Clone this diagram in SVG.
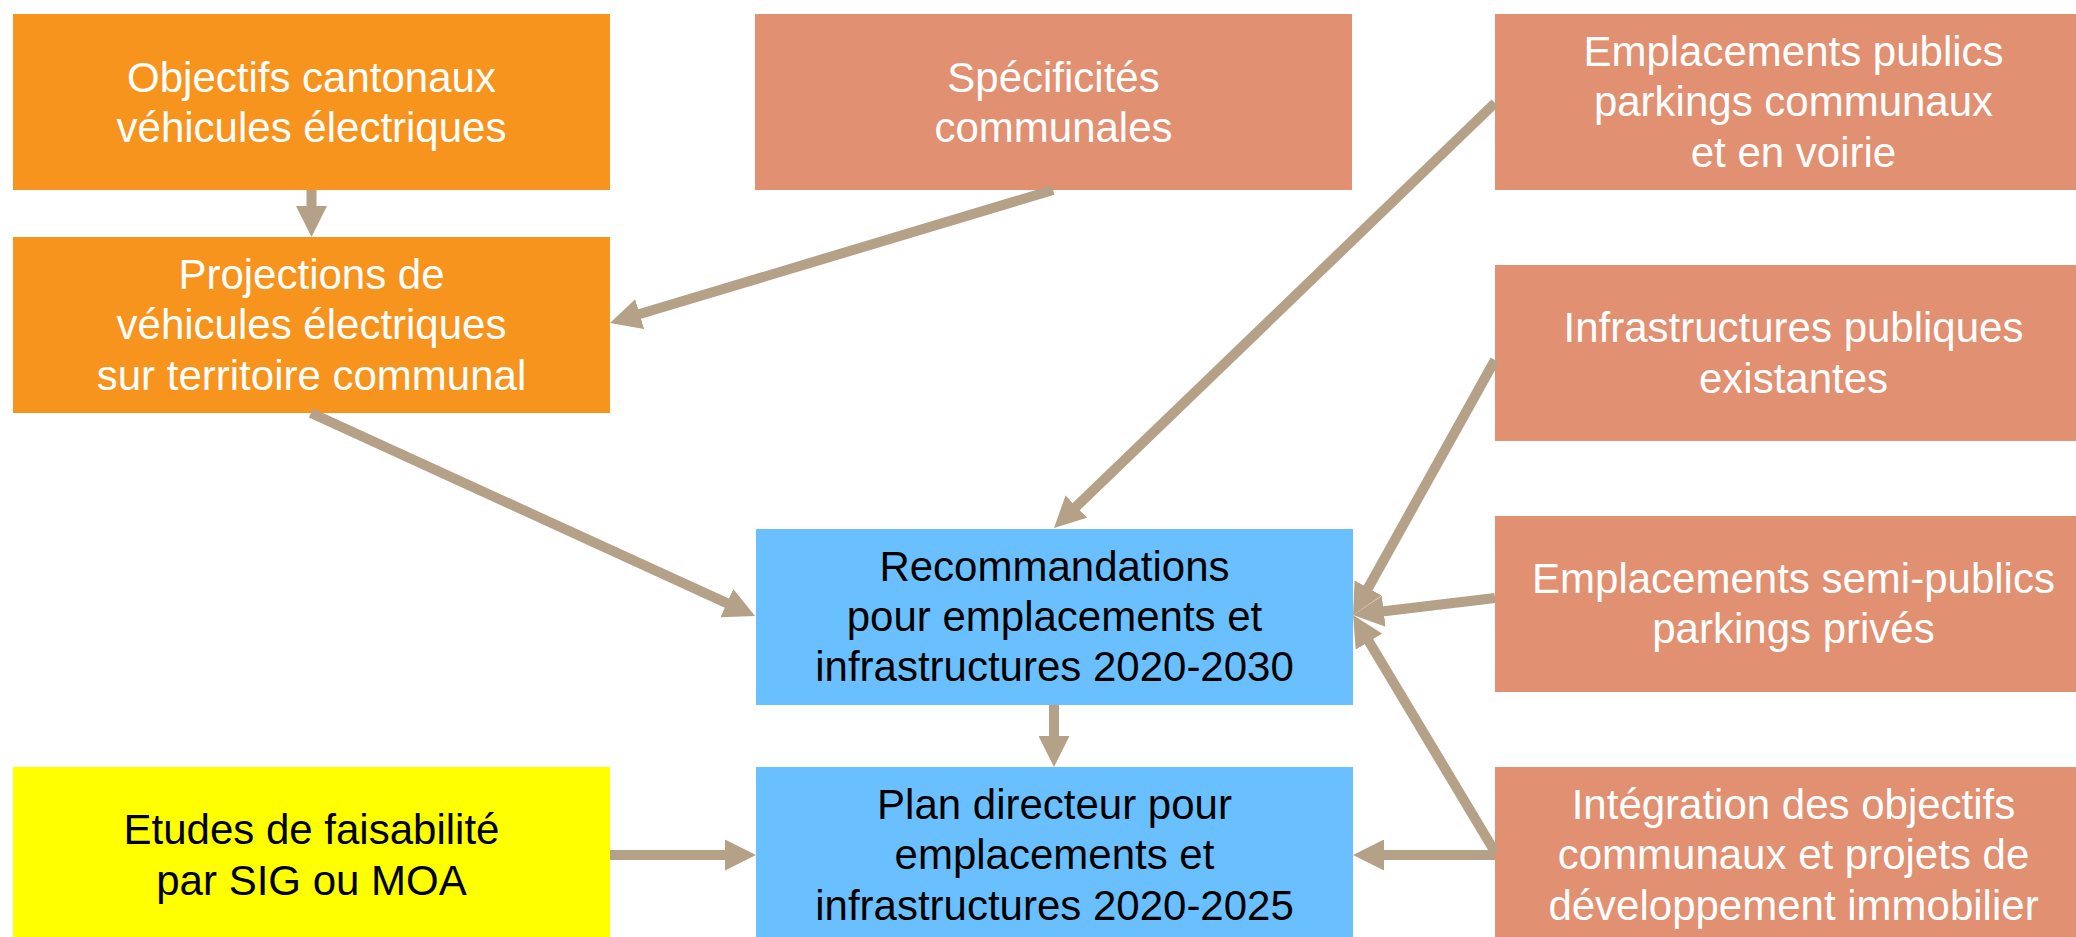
<svg xmlns="http://www.w3.org/2000/svg" width="2076" height="937" viewBox="0 0 2076 937">
<style>
.orange{fill:#F7941E}
.salmon{fill:#E29072}
.blue{fill:#6AC0FF}
.yellow{fill:#FFFF00}
text{font-family:"Liberation Sans",Arial,sans-serif;font-size:42px;text-anchor:middle}
.w{fill:#FFFFFF}
.k{fill:#000000}
.conn{stroke:#B5A188;stroke-width:10;fill:none;marker-end:url(#ah)}
</style>
<defs>
<marker id="ah" markerUnits="userSpaceOnUse" markerWidth="31" markerHeight="31" viewBox="0 0 31 31" refX="6" refY="15.5" orient="auto">
<path d="M0,0 L31,15.5 L0,31 z" fill="#B5A188"/>
</marker>
</defs>
<rect width="2076" height="937" fill="#FFFFFF"/>
<g id="obj">
<rect class="orange" x="13" y="14" width="597" height="176"/>
<text class="w" x="311.5" y="92">Objectifs cantonaux</text>
<text class="w" x="311.5" y="142">véhicules électriques</text>
</g>
<g id="proj">
<rect class="orange" x="13" y="237" width="597" height="176"/>
<text class="w" x="311.5" y="289">Projections de</text>
<text class="w" x="311.5" y="339">véhicules électriques</text>
<text class="w" x="311.5" y="390">sur territoire communal</text>
</g>
<g id="spec">
<rect class="salmon" x="755" y="14" width="597" height="176"/>
<text class="w" x="1053.5" y="92">Spécificités</text>
<text class="w" x="1053.5" y="142">communales</text>
</g>
<g id="emppub">
<rect class="salmon" x="1495" y="14" width="597" height="176"/>
<text class="w" x="1793.5" y="66">Emplacements publics</text>
<text class="w" x="1793.5" y="116">parkings communaux</text>
<text class="w" x="1793.5" y="167">et en voirie</text>
</g>
<g id="infra">
<rect class="salmon" x="1495" y="265" width="597" height="176"/>
<text class="w" x="1793.5" y="342">Infrastructures publiques</text>
<text class="w" x="1793.5" y="393">existantes</text>
</g>
<g id="rec">
<rect class="blue" x="756" y="529" width="597" height="176"/>
<text class="k" x="1054.5" y="581">Recommandations</text>
<text class="k" x="1054.5" y="631">pour emplacements et</text>
<text class="k" x="1054.5" y="681">infrastructures 2020-2030</text>
</g>
<g id="semi">
<rect class="salmon" x="1495" y="516" width="597" height="176"/>
<text class="w" x="1793.5" y="593">Emplacements semi-publics</text>
<text class="w" x="1793.5" y="643">parkings privés</text>
</g>
<g id="etudes">
<rect class="yellow" x="13" y="767" width="597" height="176"/>
<text class="k" x="311.5" y="844">Etudes de faisabilité</text>
<text class="k" x="311.5" y="895">par SIG ou MOA</text>
</g>
<g id="plan">
<rect class="blue" x="756" y="767" width="597" height="176"/>
<text class="k" x="1054.5" y="819">Plan directeur pour</text>
<text class="k" x="1054.5" y="869">emplacements et</text>
<text class="k" x="1054.5" y="920">infrastructures 2020-2025</text>
</g>
<g id="integ">
<rect class="salmon" x="1495" y="767" width="597" height="176"/>
<text class="w" x="1793.5" y="819">Intégration des objectifs</text>
<text class="w" x="1793.5" y="869">communaux et projets de</text>
<text class="w" x="1793.5" y="920">développement immobilier</text>
</g>
<g id="connectors">
<line class="conn" x1="311.5" y1="190" x2="311.5" y2="212"/>
<line class="conn" x1="1053" y1="190" x2="633.9" y2="315.8"/>
<line class="conn" x1="311" y1="413" x2="732.3" y2="605.6"/>
<line class="conn" x1="1495" y1="103" x2="1072" y2="510.7"/>
<line class="conn" x1="1495" y1="360" x2="1365.2" y2="593.2"/>
<line class="conn" x1="1495" y1="598" x2="1377.8" y2="612"/>
<line class="conn" x1="1495" y1="852" x2="1365.9" y2="636.5"/>
<line class="conn" x1="1495" y1="855" x2="1378" y2="855"/>
<line class="conn" x1="610" y1="855" x2="731" y2="855"/>
<line class="conn" x1="1054" y1="705" x2="1054" y2="742"/>
</g>
</svg>
